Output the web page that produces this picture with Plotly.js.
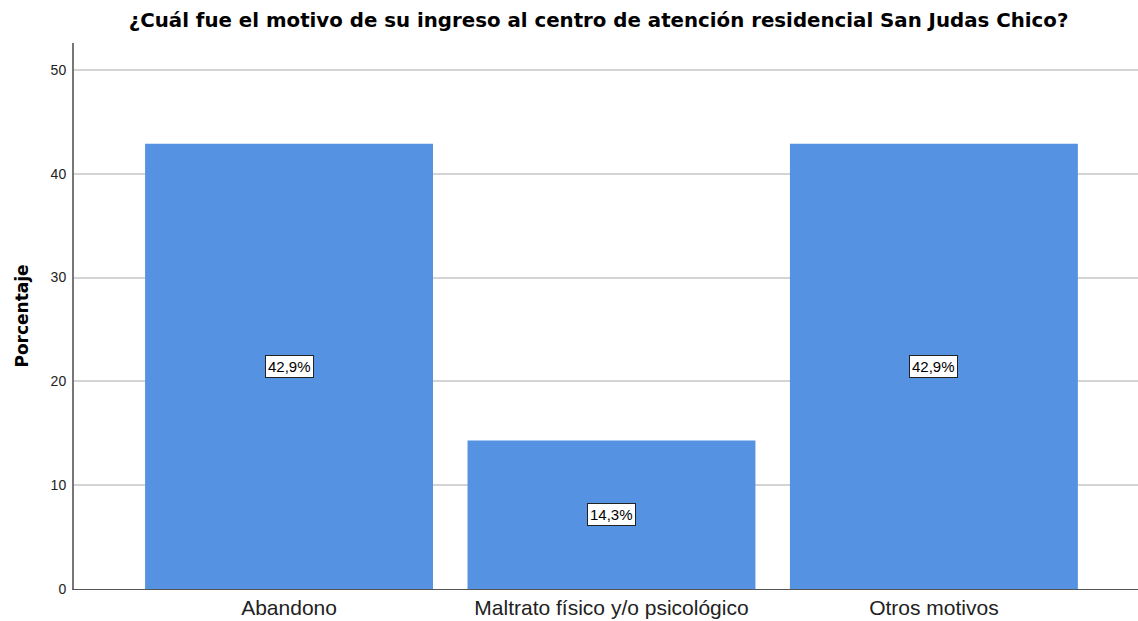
<!DOCTYPE html>
<html>
<head>
<meta charset="utf-8">
<script src="https://cdn.plot.ly/plotly-3.0.1.min.js"></script>
<style>html,body{margin:0;padding:0;background:#fff;}#chart{width:1138px;height:621px;}</style>
</head>
<body>
<div id="chart"></div>
<script>
var categories = ["Abandono", "Maltrato físico y/o psicológico", "Otros motivos"];
var percentages = [42.9, 14.3, 42.9];
var yTicks = [0, 10, 20, 30, 40, 50];

var idx = categories.map(function(c, i){ return i; });

var trace = {
  type: "bar",
  x: idx,
  y: percentages,
  width: 0.893,
  marker: {color: "#5592E1", line: {width: 0}},
  hoverinfo: "skip"
};

var annotations = percentages.map(function(v, i){
  return {
    x: i, y: v / 2, xref: "x", yref: "y",
    text: v.toFixed(1).replace(".", ",") + "%",
    showarrow: false,
    font: {family: "Arial, Liberation Sans, sans-serif", size: 15, color: "#000"},
    bgcolor: "#ffffff", bordercolor: "#222", borderwidth: 1, borderpad: 2
  };
});

var layout = {
  width: 1138, height: 621,
  margin: {l: 74, r: 0, t: 43, b: 32},
  paper_bgcolor: "#fff", plot_bgcolor: "#fff",
  title: {
    text: "<b>¿Cuál fue el motivo de su ingreso al centro de atención residencial San Judas Chico?</b>",
    font: {family: "DejaVu Sans, sans-serif", size: 19.8, color: "#000"},
    x: 0.526, xanchor: "center", y: 0.967, yanchor: "middle"
  },
  xaxis: {
    range: [-0.667, 2.633],
    tickmode: "array", tickvals: idx, ticktext: categories,
    showgrid: false, zeroline: false,
    showline: true, linecolor: "#555", linewidth: 1,
    ticks: "", ticklen: 0,
    tickfont: {family: "Arial, Liberation Sans, sans-serif", size: 21, color: "#222"},
    fixedrange: true
  },
  yaxis: {
    range: [0, 52.6],
    tickmode: "array", tickvals: yTicks,
    showgrid: true, gridcolor: "#d4d4d4", gridwidth: 2,
    zeroline: false,
    showline: true, linecolor: "#777", linewidth: 2,
    ticks: "", ticklabelstandoff: 3,
    tickfont: {family: "Arial, Liberation Sans, sans-serif", size: 14, color: "#222"},
    title: {text: "<b>Porcentaje</b>", font: {family: "DejaVu Sans, sans-serif", size: 17, color: "#000"}, standoff: 18},
    fixedrange: true
  },
  annotations: annotations,
  showlegend: false,
  bargap: 0.1
};

Plotly.newPlot("chart", [trace], layout, {displayModeBar: false, staticPlot: true});
</script>
</body>
</html>
